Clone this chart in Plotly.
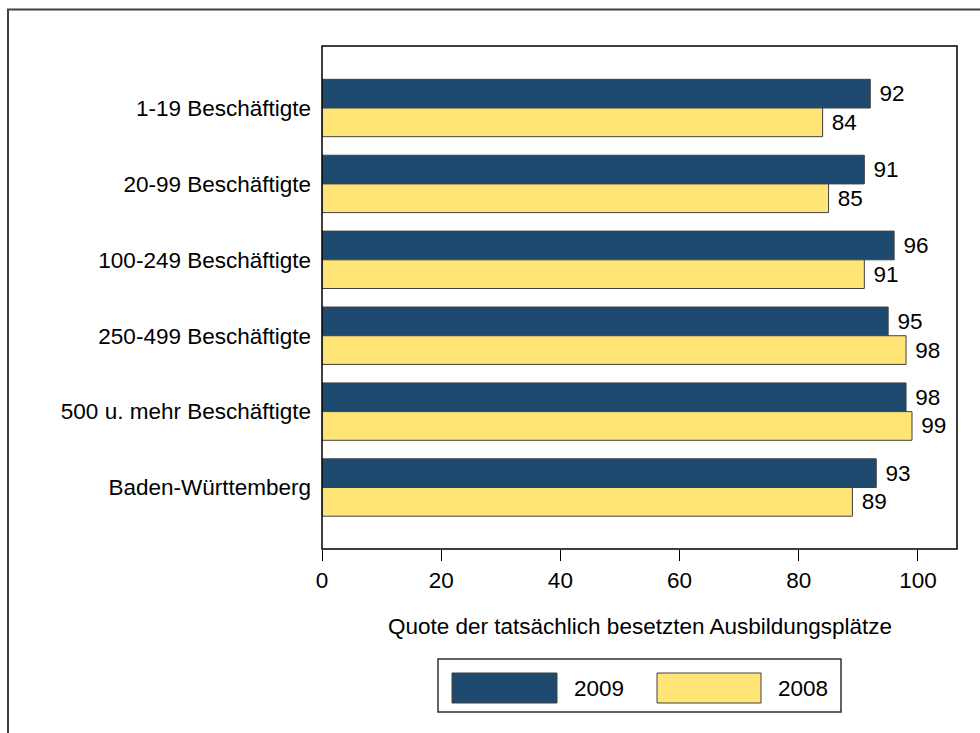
import plotly.graph_objects as go

categories = ["1-19 Beschäftigte", "20-99 Beschäftigte", "100-249 Beschäftigte",
              "250-499 Beschäftigte", "500 u. mehr Beschäftigte", "Baden-Württemberg"]
values_2009 = [92, 91, 96, 95, 98, 93]
values_2008 = [84, 85, 91, 98, 99, 89]
series_names = ["2009", "2008"]
x_ticks = [0, 20, 40, 60, 80, 100]
x_title = "Quote der tatsächlich besetzten Ausbildungsplätze"

W, H = 980, 733
L, R, T, B = 322, 957, 46, 549
FONT = "Liberation Sans, Arial, sans-serif"
FS = 22.5
DARK = "#1f4a70"
YELLOW = "#ffe476"
EDGE = "#404040"

def px(x):
    return (x - L) / (R - L)

def py(y):
    return (B - y) / (B - T)

fig = go.Figure()
for name, vals, col in [(series_names[0], values_2009, DARK), (series_names[1], values_2008, YELLOW)]:
    fig.add_trace(go.Bar(
        y=categories, x=vals, name=name, orientation="h",
        marker=dict(color=col, line=dict(color=EDGE, width=1)),
        text=vals, texttemplate=" %{x}", textposition="outside",
        textfont=dict(family=FONT, size=FS, color="black"),
        constraintext="none", cliponaxis=False, showlegend=False,
    ))

fig.update_layout(
    width=W, height=H,
    margin=dict(l=L, r=W - R, t=T, b=H - B),
    paper_bgcolor="white", plot_bgcolor="white",
    barmode="group", bargap=0.244, bargroupgap=0,
    font=dict(family=FONT, size=FS, color="black"),
    xaxis=dict(range=[0, 106.55], tickvals=x_ticks, ticks="outside", ticklen=11,
               tickwidth=1, tickcolor="black", showgrid=False, zeroline=False,
               showline=False, tickfont=dict(size=FS)),
    yaxis=dict(categoryorder="array", categoryarray=categories,
               range=[5.81, -0.817], showgrid=False, zeroline=False,
               showline=False, ticks="", ticklabelstandoff=10,
               tickfont=dict(size=FS)),
)

shapes = [
    # outer frame
    dict(type="rect", xref="paper", yref="paper", x0=px(8), x1=px(990), y0=py(9.5), y1=py(745),
         line=dict(color="#404040", width=2), fillcolor="rgba(0,0,0,0)", layer="below"),
    # plot box
    dict(type="rect", xref="paper", yref="paper", x0=0, x1=1, y0=0, y1=1,
         line=dict(color="black", width=1.5), fillcolor="rgba(0,0,0,0)", layer="above"),
    # legend box
    dict(type="rect", xref="paper", yref="paper", x0=px(438), x1=px(841), y0=py(659), y1=py(712),
         line=dict(color="#303030", width=1.5), fillcolor="white"),
    dict(type="rect", xref="paper", yref="paper", x0=px(452), x1=px(557), y0=py(673), y1=py(703),
         line=dict(color=EDGE, width=1), fillcolor=DARK),
    dict(type="rect", xref="paper", yref="paper", x0=px(657), x1=px(761), y0=py(673), y1=py(703),
         line=dict(color=EDGE, width=1), fillcolor=YELLOW),
]
annotations = [
    dict(xref="paper", yref="paper", x=0.5, y=py(626), text=x_title, showarrow=False,
         xanchor="center", yanchor="middle", font=dict(size=FS)),
    dict(xref="paper", yref="paper", x=px(572), y=py(688), text=series_names[0], showarrow=False,
         xanchor="left", yanchor="middle", font=dict(size=FS)),
    dict(xref="paper", yref="paper", x=px(776), y=py(688), text=series_names[1], showarrow=False,
         xanchor="left", yanchor="middle", font=dict(size=FS)),
]
fig.update_layout(shapes=shapes, annotations=annotations)

fig.write_html("out.html")
